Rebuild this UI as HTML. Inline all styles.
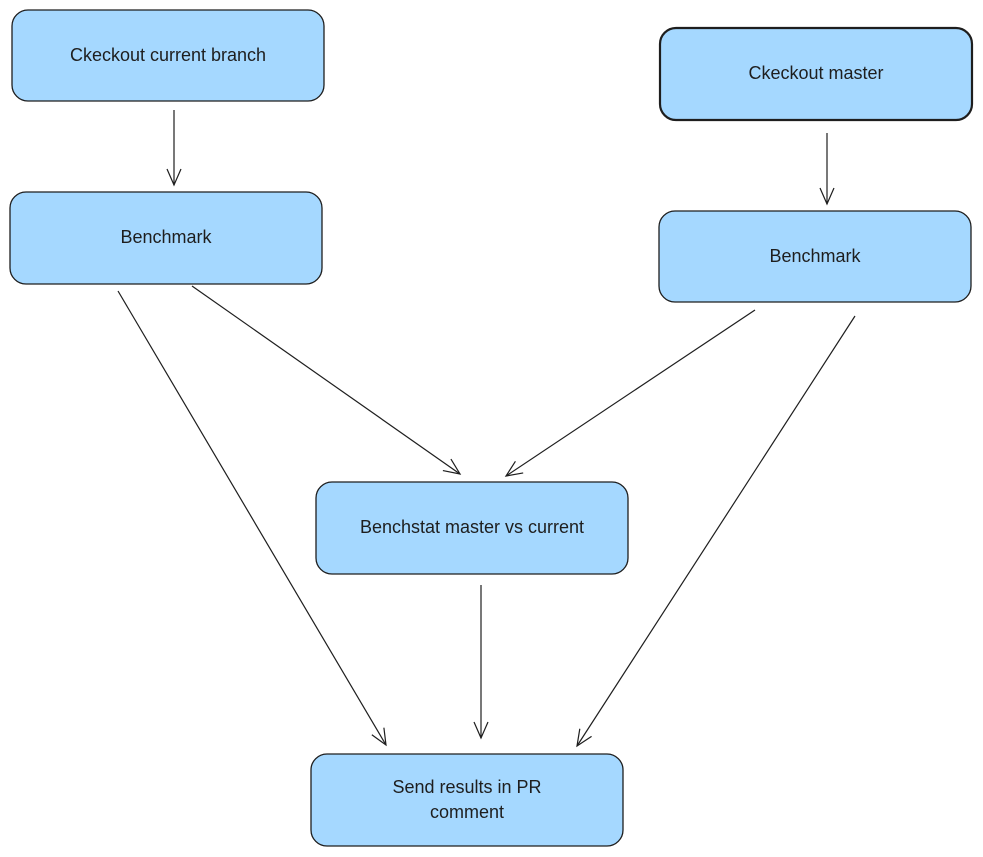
<!DOCTYPE html>
<html><head><meta charset="utf-8"><style>
html,body{margin:0;padding:0;background:#fff;}
svg{display:block;}
text{font-family:"Liberation Sans",sans-serif;font-size:18px;fill:#1e1e1e;text-anchor:middle;dominant-baseline:middle;}
</style></head><body>
<svg width="983" height="857" viewBox="0 0 983 857" xmlns="http://www.w3.org/2000/svg">
<defs>
<marker id="a" markerWidth="20" markerHeight="20" refX="18" refY="10" orient="auto" markerUnits="userSpaceOnUse">
<path d="M2,3 L18,10 L2,17" fill="none" stroke="#1e1e1e" stroke-width="1.2"/>
</marker>
</defs>
<g fill="#a5d8ff" stroke="#1e1e1e" stroke-width="1.3">
<rect x="12" y="10" width="312" height="91" rx="16"/>
<rect x="660" y="28" width="312" height="92" rx="16" stroke-width="2.2"/>
<rect x="10" y="192" width="312" height="92" rx="16"/>
<rect x="659" y="211" width="312" height="91" rx="16"/>
<rect x="316" y="482" width="312" height="92" rx="16"/>
<rect x="311" y="754" width="312" height="92" rx="16"/>
</g>
<text x="168" y="56">Ckeckout current branch</text>
<text x="816" y="74">Ckeckout master</text>
<text x="166" y="238">Benchmark</text>
<text x="815" y="257">Benchmark</text>
<text x="472" y="528">Benchstat master vs current</text>
<text x="467" y="788">Send results in PR</text>
<text x="467" y="813">comment</text>
<g stroke="#1e1e1e" stroke-width="1.2" fill="none" marker-end="url(#a)">
<line x1="174" y1="110" x2="174" y2="185"/>
<line x1="827" y1="133" x2="827" y2="204"/>
<line x1="192" y1="286" x2="460" y2="474"/>
<line x1="755" y1="310" x2="506" y2="476"/>
<line x1="118" y1="291" x2="386" y2="745"/>
<line x1="855" y1="316" x2="577" y2="746"/>
<line x1="481" y1="585" x2="481" y2="738"/>
</g>
</svg>
</body></html>
